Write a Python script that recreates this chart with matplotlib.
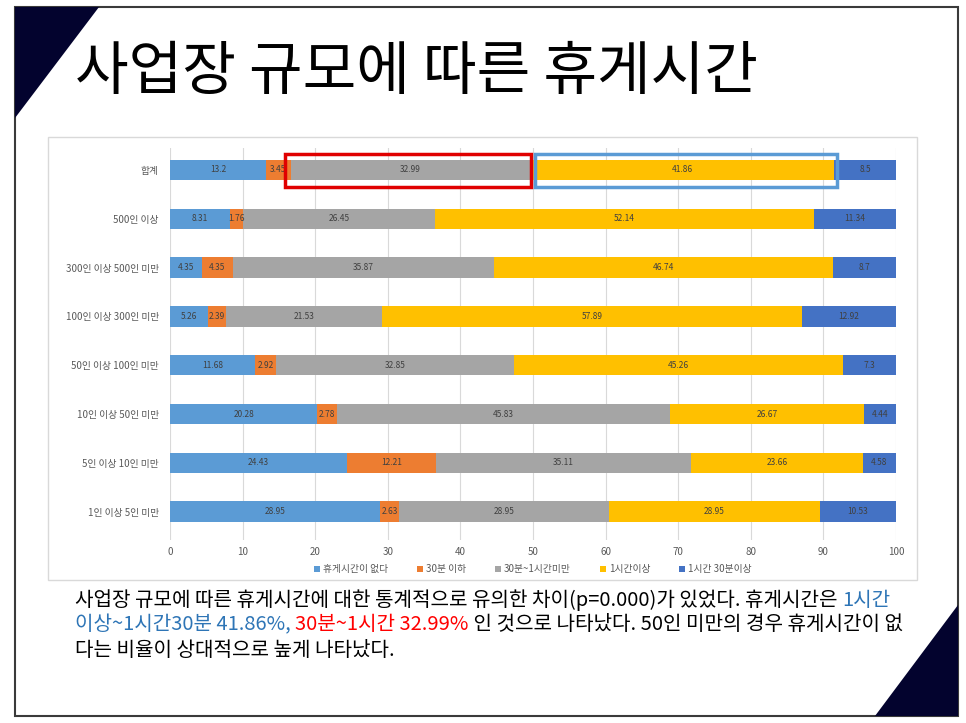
import numpy as np
import matplotlib
matplotlib.use('Agg')
import matplotlib.pyplot as plt
from matplotlib.patches import Polygon, Rectangle

plt.rcParams['font.family'] = ['Noto Sans CJK KR', 'DejaVu Sans']

### Data
categories = ['합계', '500인 이상', '300인 이상 500인 미만', '100인 이상 300인 미만',
              '50인 이상 100인 미만', '10인 이상 50인 미만', '5인 이상 10인 미만', '1인 이상 5인 미만']
series_names = ['휴게시간이 없다', '30분 이하', '30분~1시간미만', '1시간이상', '1시간 30분이상']
no_break   = [13.2, 8.31, 4.35, 5.26, 11.68, 20.28, 24.43, 28.95]
under_30   = [3.45, 1.76, 4.35, 2.39, 2.92, 2.78, 12.21, 2.63]
m30_to_1h  = [32.99, 26.45, 35.87, 21.53, 32.85, 45.83, 35.11, 28.95]
over_1h    = [41.86, 52.14, 46.74, 57.89, 45.26, 26.67, 23.66, 28.95]
over_1h30  = [8.5, 11.34, 8.7, 12.92, 7.3, 4.44, 4.58, 10.53]
xticks = [0, 10, 20, 30, 40, 50, 60, 70, 80, 90, 100]

colors = ['#5B9BD5', '#ED7D31', '#A5A5A5', '#FFC000', '#4472C4']

W, H = 966, 723
fig = plt.figure(figsize=(W/100, H/100), dpi=100)
fig.patch.set_facecolor('white')

def fx(x): return x / W
def fy(y): return 1 - y / H

## Slide decoration
fig.patches.append(Rectangle((fx(15), fy(716)), fx(958) - fx(15), fy(7) - fy(716),
                             transform=fig.transFigure, fill=False, ec='#3a3a3a', lw=1.5))
fig.patches.append(Polygon([(fx(15), fy(7)), (fx(99), fy(7)), (fx(15), fy(118))],
                           closed=True, transform=fig.transFigure, fc='#03032e', ec='none'))
fig.patches.append(Polygon([(fx(958), fy(605)), (fx(958), fy(716)), (fx(875), fy(716))],
                           closed=True, transform=fig.transFigure, fc='#03032e', ec='none'))

fig.text(fx(75), fy(72), '사업장 규모에 따른 휴게시간', fontsize=42, color='black',
         va='center', ha='left')

## Chart frame
fig.patches.append(Rectangle((fx(48), fy(580)), fx(917) - fx(48), fy(137) - fy(580),
                             transform=fig.transFigure, fill=False, ec='#d9d9d9', lw=1))

ax = fig.add_axes([fx(170), fy(540), fx(896) - fx(170), fy(148) - fy(540)])
y = np.arange(len(categories))
left = np.zeros(len(categories))
for vals, name, c in zip([no_break, under_30, m30_to_1h, over_1h, over_1h30], series_names, colors):
    vals = np.array(vals)
    ax.barh(y, vals, left=left, height=0.42, color=c, label=name, zorder=3)
    for yi, l, v in zip(y, left, vals):
        ax.text(l + v/2, yi, f'{v:g}', ha='center', va='center', fontsize=6,
                color='#404040', zorder=4)
    left += vals

ax.set_xlim(0, 100)
ax.set_ylim(7.58, -0.45)
ax.set_xticks(xticks)
ax.set_yticks(y)
ax.set_yticklabels(categories)
ax.tick_params(axis='both', length=0, labelsize=7, labelcolor='#595959')
ax.tick_params(axis='y', pad=8)
ax.tick_params(axis='x', pad=5)
ax.grid(axis='x', color='#d9d9d9', lw=0.8, zorder=0)
for s in ax.spines.values():
    s.set_visible(False)

# highlight boxes
ax.add_patch(Rectangle((15.8, -0.32), 33.9, 0.66, fill=False, ec='#E00000', lw=2.5, zorder=5))
ax.add_patch(Rectangle((50.3, -0.32), 41.6, 0.66, fill=False, ec='#5B9BD5', lw=2.5, zorder=5))

leg = ax.legend(loc='center', bbox_to_anchor=(0.5, -0.075), ncol=5, frameon=False,
                fontsize=7, handlelength=0.6, handleheight=0.6, columnspacing=3.0,
                handletextpad=0.3, labelcolor='#595959')

## Body text with coloured segments
lines = [
    [('사업장 규모에 따른 휴게시간에 대한 통계적으로 유의한 차이(p=0.000)가 있었다. 휴게시간은 ', 'black'),
     ('1시간', '#2E75B6')],
    [('이상~1시간30분 41.86%, ', '#2E75B6'), ('30분~1시간 32.99%', '#FF0000'),
     (' 인 것으로 나타났다. 50인 미만의 경우 휴게시간이 없', 'black')],
    [('다는 비율이 상대적으로 높게 나타났다.', 'black')],
]
line_y = [600, 625, 650]
renderer = fig.canvas.get_renderer()
for segs, ly in zip(lines, line_y):
    x = fx(75)
    for txt, c in segs:
        t = fig.text(x, fy(ly), txt, fontsize=14.5, color=c, va='center', ha='left')
        bb = t.get_window_extent(renderer=renderer)
        x = bb.x1 / W

fig.savefig('out.png', dpi=100)
